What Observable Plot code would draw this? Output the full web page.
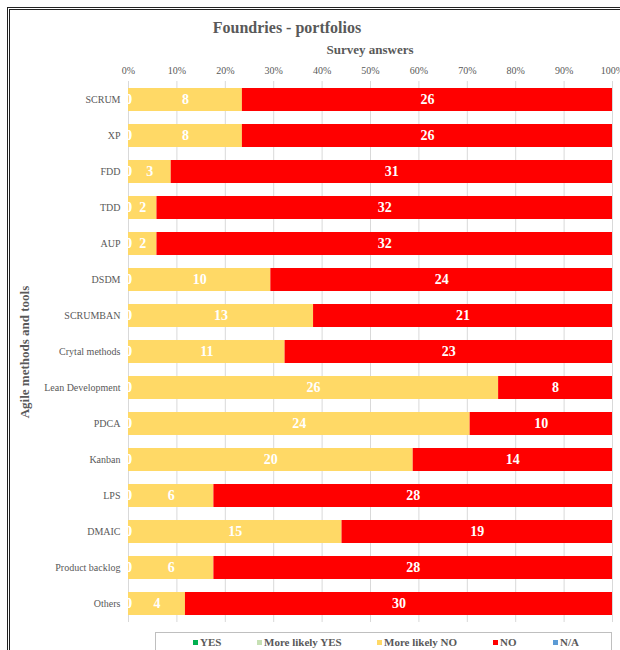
<!DOCTYPE html>
<html>
<head>
<meta charset="utf-8">
<script src="https://cdn.jsdelivr.net/npm/d3@7"></script>
<script src="https://cdn.jsdelivr.net/npm/@observablehq/plot@0.6"></script>
<style>
  html, body { margin: 0; padding: 0; overflow: hidden; background: #fff; width: 620px; height: 650px; }
  #wrap { position: relative; width: 620px; height: 650px; font-family: 'Liberation Serif', serif; color: #595959; }
  #frame { position: absolute; left: 7px; top: 7px; width: 700px; height: 700px; border: 3px double #222; box-sizing: border-box; }
  #title { position: absolute; left: 0; width: 574px; top: 19px; text-align: center; font-size: 16px; font-weight: bold; }
  #subtitle { position: absolute; left: 0; width: 740px; top: 42px; text-align: center; font-size: 13px; font-weight: bold; }
  #ylabel { position: absolute; left: 25px; top: 352px; transform: translate(-50%, -50%) rotate(-90deg); white-space: nowrap; font-size: 13px; font-weight: bold; }
  #chart { position: absolute; left: 0; top: 0; }
  #chart svg text { font-family: 'Liberation Serif', serif; }
  #legend { position: absolute; left: 155px; top: 632px; width: 457px; height: 24px; border: 1px solid #bfbfbf; box-sizing: border-box; }
  .item { position: absolute; top: 3px; font-size: 11px; font-weight: bold; color: #595959; white-space: nowrap; }
  .sw { display: inline-block; width: 5px; height: 5px; margin-right: 2px; vertical-align: 1px; }
</style>
</head>
<body>
<div id="wrap">
  <div id="chart"></div>
  <div id="frame"></div>
  <div id="title">Foundries - portfolios</div>
  <div id="subtitle">Survey answers</div>
  <div id="ylabel">Agile methods and tools</div>
  <div id="legend"></div>
</div>
<script>
const categories = ["SCRUM","XP","FDD","TDD","AUP","DSDM","SCRUMBAN","Crytal methods","Lean Development","PDCA","Kanban","LPS","DMAIC","Product backlog","Others"];
const answers = ["YES","More likely YES","More likely NO","NO","N/A"];
const answerColors = ["#00B050","#C6E0B4","#FFD966","#FF0000","#5B9BD5"];
const yesValues = [0,0,0,0,0,0,0,0,0,0,0,0,0,0,0];
const moreLikelyYesValues = [0,0,0,0,0,0,0,0,0,0,0,0,0,0,0];
const moreLikelyNoValues = [8,8,3,2,2,10,13,11,26,24,20,6,15,6,4];
const noValues = [26,26,31,32,32,24,21,23,8,10,14,28,19,28,30];
const naValues = [0,0,0,0,0,0,0,0,0,0,0,0,0,0,0];
const xTicks = [0,0.1,0.2,0.3,0.4,0.5,0.6,0.7,0.8,0.9,1];

const series = [yesValues, moreLikelyYesValues, moreLikelyNoValues, noValues, naValues];
const data = [];
categories.forEach((c, i) => {
  answers.forEach((a, j) => data.push({cat: c, answer: a, value: series[j][i]}));
});
const labelData = data.filter(d => d.answer !== "N/A");

const chart = Plot.plot({
  width: 620,
  height: 630,
  marginLeft: 128,
  marginRight: 8,
  marginTop: 81,
  marginBottom: 8,
  style: {fontFamily: "'Liberation Serif', serif", fontSize: "10px", color: "#595959", background: "transparent"},
  x: {domain: [0, 1], ticks: xTicks, tickFormat: d3.format(".0%")},
  y: {domain: categories, paddingInner: 0.36, paddingOuter: 0.18},
  color: {domain: answers, range: answerColors},
  marks: [
    Plot.gridX(xTicks, {stroke: "#d9d9d9", strokeOpacity: 1}),
    Plot.barX(data, Plot.stackX({x: "value", y: "cat", fill: "answer", z: "answer", order: answers, offset: "normalize"})),
    Plot.text(labelData, Plot.stackX({x: "value", y: "cat", z: "answer", order: answers, offset: "normalize", text: d => String(d.value), fill: "white", fontWeight: "bold", fontSize: 14})),
    Plot.axisX(xTicks, {anchor: "top", tickSize: 0, tickPadding: 8, label: null, tickFormat: d3.format(".0%"), fill: "#595959"}),
    Plot.axisY({tickSize: 0, tickPadding: 8, label: null, fill: "#595959"})
  ]
});
document.getElementById("chart").appendChild(chart);

const legendPos = [37, 101, 221, 337, 397];
const legend = document.getElementById("legend");
answers.forEach((a, i) => {
  const it = document.createElement("div");
  it.className = "item";
  it.style.left = legendPos[i] + "px";
  const sw = document.createElement("span");
  sw.className = "sw";
  sw.style.background = answerColors[i];
  it.appendChild(sw);
  it.appendChild(document.createTextNode(a));
  legend.appendChild(it);
});
</script>
</body>
</html>
